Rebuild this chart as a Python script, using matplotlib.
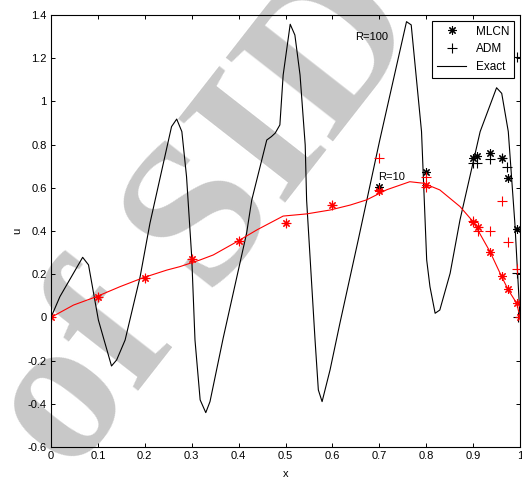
import numpy as np
import matplotlib
matplotlib.use("Agg")
import matplotlib.pyplot as plt

plt.rcParams['font.family'] = ['Liberation Sans Narrow', 'Liberation Sans', 'DejaVu Sans']
plt.rcParams['font.size'] = 8

# exact solution, R=100 (black)
x_r100 = [0, 0.019, 0.0675, 0.08, 0.101, 0.129, 0.14, 0.158, 0.19, 0.211, 0.257, 0.268,
          0.279, 0.289, 0.3, 0.307, 0.318, 0.33, 0.339, 0.367, 0.417, 0.428, 0.46, 0.47,
          0.478, 0.488, 0.495, 0.51, 0.52, 0.531, 0.542, 0.545, 0.563, 0.57, 0.578, 0.595,
          0.616, 0.655, 0.701, 0.758, 0.768, 0.79, 0.801, 0.808, 0.819, 0.829, 0.851, 0.872,
          0.915, 0.95, 0.961, 0.975, 0.989, 1.0]
u_r100 = [0, 0.096, 0.278, 0.243, -0.012, -0.225, -0.197, -0.105, 0.188, 0.436, 0.883, 0.918,
          0.86, 0.651, 0.281, -0.105, -0.382, -0.441, -0.39, -0.097, 0.389, 0.543, 0.821, 0.837,
          0.853, 0.891, 1.122, 1.357, 1.307, 1.122, 0.798, 0.543, -0.105, -0.336, -0.39, -0.243,
          -0.027, 0.358, 0.821, 1.369, 1.354, 0.86, 0.266, 0.142, 0.019, 0.034, 0.204, 0.451,
          0.86, 1.063, 1.037, 0.86, 0.436, 0.0]

# exact solution, R=10 (red)
x_r10 = [0, 0.048, 0.097, 0.147, 0.197, 0.247, 0.275, 0.318, 0.346, 0.396, 0.439, 0.495,
         0.545, 0.595, 0.638, 0.673, 0.716, 0.765, 0.794, 0.829, 0.872, 0.9, 0.936, 0.961,
         0.975, 0.993, 1.0]
u_r10 = [0, 0.057, 0.096, 0.142, 0.184, 0.219, 0.235, 0.266, 0.289, 0.35, 0.405, 0.469,
         0.479, 0.497, 0.52, 0.544, 0.591, 0.628, 0.621, 0.59, 0.513, 0.443, 0.304, 0.188,
         0.127, 0.065, 0.0]

# MLCN / ADM points
mlcn10_x = [0, 0.1, 0.2, 0.3, 0.4, 0.5, 0.6, 0.7, 0.8, 0.9, 0.91, 0.936, 0.961, 0.975, 0.994, 1.0]
mlcn10_u = [0, 0.095, 0.184, 0.27, 0.355, 0.438, 0.52, 0.585, 0.613, 0.443, 0.42, 0.304, 0.19, 0.13, 0.068, 0.0]
adm10_x = [0, 0.1, 0.2, 0.3, 0.4, 0.5, 0.6, 0.7, 0.7, 0.8, 0.8, 0.9, 0.91, 0.91, 0.936, 0.961, 0.975, 0.994, 1.0]
adm10_u = [0, 0.095, 0.184, 0.27, 0.355, 0.438, 0.52, 0.737, 0.59, 0.651, 0.605, 0.448, 0.42, 0.4, 0.4, 0.537, 0.35, 0.225, 0.0]

mlcn100_x = [0.7, 0.8, 0.9, 0.909, 0.935, 0.961, 0.974, 0.993]
mlcn100_u = [0.605, 0.675, 0.737, 0.747, 0.76, 0.737, 0.644, 0.408]
adm100_x = [0.9, 0.909, 0.935, 0.961, 0.973, 0.993, 0.993, 0.995]
adm100_u = [0.713, 0.713, 0.732, 0.737, 0.695, 1.207, 0.204, 0.0]

fig = plt.figure(figsize=(5.22, 4.78), dpi=100)
ax = fig.add_axes([0.0977, 0.0649, 0.8985, 0.9038])
ax.patch.set_alpha(0)

# watermark
fig.text(0.40, 0.54, 'of SID', fontsize=150, family='Liberation Serif', weight='bold',
         color='#c8c8c8', rotation=52, ha='center', va='center', zorder=-5)

star = (8, 2, 0)
ax.plot(x_r100, u_r100, '-', color='black', lw=0.8, label='Exact')
ax.plot(x_r10, u_r10, '-', color='red', lw=0.8)
ax.plot(mlcn100_x, mlcn100_u, ls='none', marker=star, ms=6, mec='black', mew=0.8, label='MLCN')
ax.plot(adm100_x, adm100_u, ls='none', marker='+', ms=7, mec='black', mew=0.8, label='ADM')
ax.plot(mlcn10_x, mlcn10_u, ls='none', marker=star, ms=6, mec='red', mew=0.8)
ax.plot(adm10_x, adm10_u, ls='none', marker='+', ms=7, mec='red', mew=0.8)

ax.text(0.648, 1.30, 'R=100', fontsize=8, va='center')
ax.text(0.698, 0.649, 'R=10', fontsize=8, va='center')

ax.set_xlim(0, 1)
ax.set_ylim(-0.6, 1.4)
ax.set_xticks(np.arange(0, 1.01, 0.1))
ax.set_xticklabels(['0', '0.1', '0.2', '0.3', '0.4', '0.5', '0.6', '0.7', '0.8', '0.9', '1'])
ax.set_yticks(np.arange(-0.6, 1.41, 0.2))
ax.set_yticklabels(['-0.6', '-0.4', '-0.2', '0', '0.2', '0.4', '0.6', '0.8', '1', '1.2', '1.4'])
ax.tick_params(direction='in', top=True, right=True, length=3, width=0.7, pad=3)
for s in ax.spines.values():
    s.set_linewidth(0.8)

ax.set_xlabel('x')
ax.set_ylabel('u')
ax.xaxis.set_label_coords(0.5, -0.05)
ax.yaxis.set_label_coords(-0.062, 0.5)

h, l = ax.get_legend_handles_labels()
order = [1, 2, 0]
leg = ax.legend([h[i] for i in order], [l[i] for i in order], loc='upper right',
                fancybox=False, edgecolor='black', framealpha=1, borderaxespad=0.5,
                handlelength=2.5, numpoints=1, labelspacing=0.5, fontsize=8.5)
leg.get_frame().set_linewidth(0.8)

fig.savefig('out.png', dpi=100)
